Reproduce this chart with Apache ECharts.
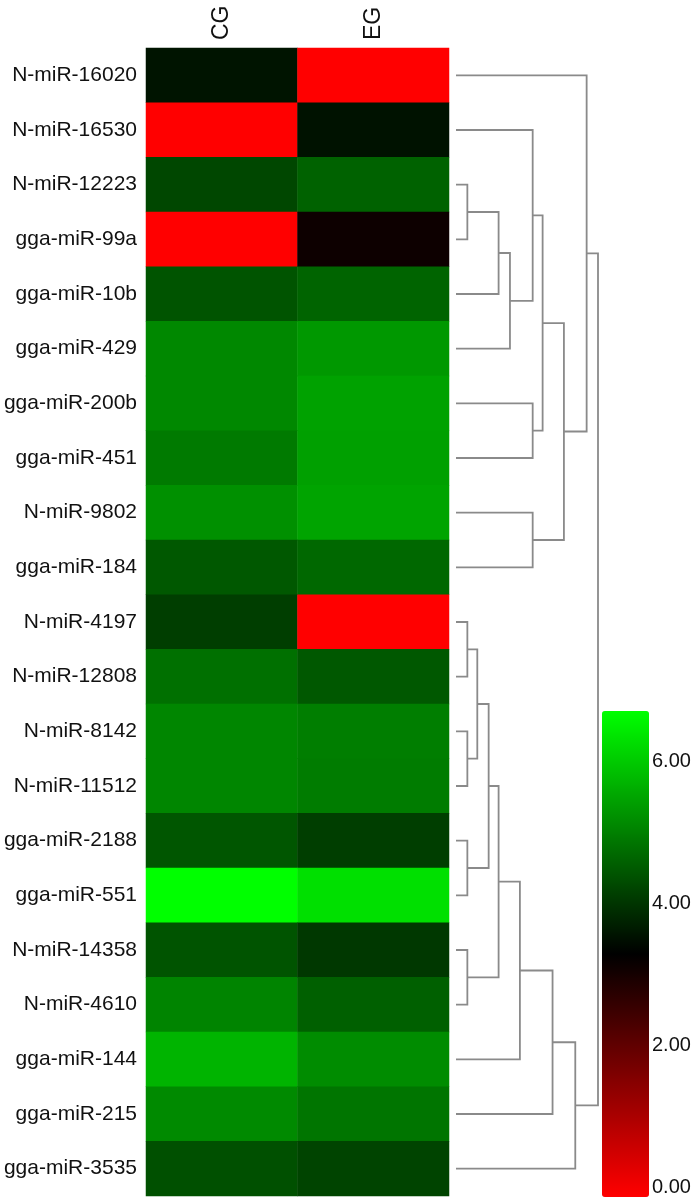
<!DOCTYPE html>
<html>
<head>
<meta charset="utf-8">
<title>miRNA heatmap</title>
<script src="https://cdn.jsdelivr.net/npm/echarts@6.0.0/dist/echarts.min.js"></script>
<style>
	html, body { margin: 0; padding: 0; background: #fff; }
	#heatmap_mirna { width: 697px; height: 1201px; }
</style>
</head>
<body>
<div id="heatmap_mirna"></div>
<script>
// groups (columns) and miRNAs (rows, top to bottom)
var groups = ['CG', 'EG'];
var mirnas = [
	'N-miR-16020', 'N-miR-16530', 'N-miR-12223', 'gga-miR-99a', 'gga-miR-10b',
	'gga-miR-429', 'gga-miR-200b', 'gga-miR-451', 'N-miR-9802', 'gga-miR-184',
	'N-miR-4197', 'N-miR-12808', 'N-miR-8142', 'N-miR-11512', 'gga-miR-2188',
	'gga-miR-551', 'N-miR-14358', 'N-miR-4610', 'gga-miR-144', 'gga-miR-215',
	'gga-miR-3535'
];
// expression values
var valuesCG = [
	3.70, 0.00, 4.38, 0.00, 4.56,
	5.26, 5.26, 5.07, 5.37, 4.61,
	4.26, 4.94, 5.23, 5.23, 4.59,
	6.86, 4.56, 5.21, 5.85, 5.29,
	4.51
];
var valuesEG = [
	0.00, 3.67, 4.75, 3.26, 4.78,
	5.47, 5.61, 5.58, 5.64, 4.83,
	0.00, 4.61, 5.12, 5.10, 4.26,
	6.44, 4.18, 4.72, 5.31, 5.00,
	4.34
];
// colour scale
var scaleMin = 0;
var scaleMax = 6.86;
var scaleTicks = [0, 2, 4, 6];
// row clustering: [child a, child b, height]; leaves are 0..20, new nodes 21, 22, ...
var merges = [
	[2, 3, 0.08], [21, 4, 0.30], [22, 5, 0.38], [1, 23, 0.54],
	[6, 7, 0.54], [24, 25, 0.61], [8, 9, 0.54], [26, 27, 0.76],
	[0, 28, 0.92], [10, 11, 0.08], [12, 13, 0.08], [30, 31, 0.15],
	[14, 15, 0.08], [32, 33, 0.23], [16, 17, 0.08], [34, 35, 0.30],
	[36, 18, 0.45], [37, 19, 0.68], [38, 20, 0.84], [29, 39, 1.00]
];

var heatData = [];
for (var i = 0; i < mirnas.length; i++) {
	heatData.push([0, i, valuesCG[i]]);
	heatData.push([1, i, valuesEG[i]]);
}

// dendrogram branches, in (height, row) data units
var nodeY = [], nodeH = [];
for (var k = 0; k < mirnas.length; k++) {
	nodeY.push(k + 0.5);
	nodeH.push(0);
}
var branches = [];
merges.forEach(function (m) {
	var a = m[0], b = m[1], h = m[2];
	branches.push({
		coords: [[nodeH[a], nodeY[a]], [h, nodeY[a]], [h, nodeY[b]], [nodeH[b], nodeY[b]]]
	});
	nodeY.push((nodeY[a] + nodeY[b]) / 2);
	nodeH.push(h);
});

var font = "'Liberation Sans', Arial, sans-serif";
var chart = echarts.init(document.getElementById('heatmap_mirna'), null, { renderer: 'canvas' });

chart.setOption({
	backgroundColor: '#ffffff',
	animation: false,
	grid: [
		{ left: 146, top: 48, width: 303, height: 1148 },
		{ left: 456, top: 48, width: 142, height: 1148 },
		{ left: 602, top: 711, width: 47, height: 486 }
	],
	xAxis: [{
		type: 'category',
		gridIndex: 0,
		data: groups,
		position: 'top',
		axisLine: { show: false },
		axisTick: { show: false },
		axisLabel: {
			rotate: -90,
			margin: 8,
			color: '#111',
			fontFamily: font,
			fontSize: 23
		}
	}, {
		type: 'value',
		gridIndex: 1,
		min: 0,
		max: 1,
		show: false
	}, {
		type: 'value',
		gridIndex: 2,
		min: 0,
		max: 1,
		show: false
	}],
	yAxis: [{
		type: 'category',
		gridIndex: 0,
		data: mirnas,
		inverse: true,
		axisLine: { show: false },
		axisTick: { show: false },
		axisLabel: {
			margin: 9,
			color: '#111',
			fontFamily: font,
			fontSize: 21
		}
	}, {
		type: 'value',
		gridIndex: 1,
		min: 0,
		max: mirnas.length,
		inverse: true,
		show: false
	}, {
		type: 'value',
		gridIndex: 2,
		position: 'right',
		min: scaleMin,
		max: scaleMax,
		interval: 2,
		axisLine: { show: false },
		axisTick: { show: false },
		splitLine: { show: false },
		axisLabel: {
			margin: 3,
			showMaxLabel: false,
			verticalAlign: 'bottom',
			color: '#111',
			fontFamily: font,
			fontSize: 20,
			formatter: function (v) {
				return scaleTicks.indexOf(v) >= 0 ? v.toFixed(2) : '';
			}
		}
	}],
	visualMap: {
		type: 'continuous',
		seriesIndex: 0,
		dimension: 2,
		min: scaleMin,
		max: scaleMax,
		calculable: false,
		orient: 'vertical',
		left: 602,
		top: 711,
		padding: 0,
		itemWidth: 47,
		itemHeight: 486,
		inRange: {
			color: ['#ff0000', '#000000', '#00ff00']
		}
	},
	series: [{
		name: 'expression',
		type: 'heatmap',
		xAxisIndex: 0,
		yAxisIndex: 0,
		data: heatData,
		itemStyle: { borderWidth: 0 },
		emphasis: { disabled: true }
	}, {
		name: 'cluster',
		type: 'lines',
		coordinateSystem: 'cartesian2d',
		xAxisIndex: 1,
		yAxisIndex: 1,
		polyline: true,
		silent: true,
		lineStyle: {
			color: '#8a8a8a',
			width: 1.8,
			opacity: 1
		},
		data: branches
	}, {
		name: 'scale',
		type: 'scatter',
		xAxisIndex: 2,
		yAxisIndex: 2,
		data: []
	}]
});
</script>
</body>
</html>
